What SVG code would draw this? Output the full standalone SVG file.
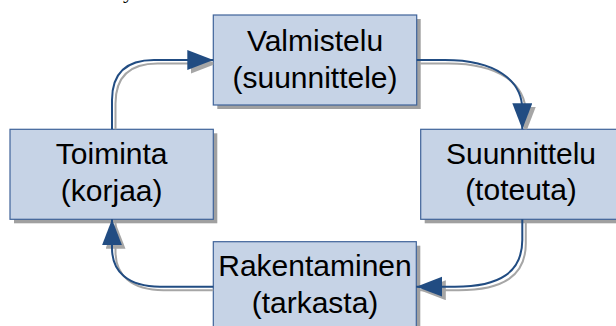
<svg xmlns="http://www.w3.org/2000/svg" width="616" height="326" viewBox="0 0 616 326">
  <style>
    .shadow { fill: #A0A0A0; }
    .box { fill: #C6D3E6; stroke: #3F6399; stroke-width: 1.2; }
    .label { font-family: "Liberation Sans", Arial, sans-serif; font-size: 30px; fill: #000; text-anchor: middle; }
    .wire { fill: none; stroke: #214C82; stroke-width: 2; }
    .wire-shadow { fill: none; stroke: #A6A6A6; stroke-width: 2; }
  </style>
  <defs>
    <marker id="head" markerUnits="userSpaceOnUse" markerWidth="28" markerHeight="21" refX="26" refY="10" orient="auto">
      <path d="M0,0 L26,10 L0,20 Z" fill="#214C82"/>
    </marker>
    <marker id="head-shadow" markerUnits="userSpaceOnUse" markerWidth="28" markerHeight="21" refX="26" refY="10" orient="auto">
      <path d="M0,0 L26,10 L0,20 Z" fill="#A6A6A6"/>
    </marker>
    <!-- keeps connector shadows from spilling over the boxes -->
    <mask id="outside-boxes">
      <rect x="0" y="0" width="616" height="326" fill="#fff"/>
      <rect x="213.3" y="15" width="203.4" height="90" fill="#000"/>
      <rect x="10" y="129.3" width="203.3" height="90" fill="#000"/>
      <rect x="420.7" y="129.3" width="203.3" height="90" fill="#000"/>
      <rect x="213.3" y="241.7" width="203" height="90" fill="#000"/>
    </mask>
    <path id="c1" d="M112,129.3 L112,100 C112,74 126,60 154,60 L213.3,60"/>
    <path id="c2" d="M416.7,60 L445,60 C495,60 522.3,80 522.3,110 L522.3,129.3"/>
    <path id="c3" d="M522.3,219.3 L522.3,240 C522.3,272 500,286.7 455,286.7 L416.3,286.7"/>
    <path id="c4" d="M213.3,286.7 L160,286.7 C128,286.7 112,272 112,248 L112,219.3"/>
  </defs>

  <!-- descender of a line of text above the frame -->
  <text x="123" y="-2" font-family="Liberation Serif, serif" font-size="22" fill="#000">y</text>

  <g id="node-valmistelu">
    <rect class="shadow" x="217.3" y="19" width="203.4" height="90"/>
    <rect class="box" x="213.3" y="15" width="203.4" height="90"/>
    <text class="label" x="315" y="51">Valmistelu</text>
    <text class="label" x="315" y="87.5">(suunnittele)</text>
  </g>

  <g id="node-toiminta">
    <rect class="shadow" x="14" y="133.3" width="203.3" height="90"/>
    <rect class="box" x="10" y="129.3" width="203.3" height="90"/>
    <text class="label" x="111.7" y="164">Toiminta</text>
    <text class="label" x="111.7" y="200.5">(korjaa)</text>
  </g>

  <g id="node-suunnittelu">
    <rect class="shadow" x="424.7" y="133.3" width="203.3" height="90"/>
    <rect class="box" x="420.7" y="129.3" width="203.3" height="90"/>
    <text class="label" x="521" y="163.5">Suunnittelu</text>
    <text class="label" x="521" y="200">(toteuta)</text>
  </g>

  <g id="node-rakentaminen">
    <rect class="shadow" x="217.3" y="245.7" width="203" height="90"/>
    <rect class="box" x="213.3" y="241.7" width="203" height="90"/>
    <text class="label" x="315" y="275.5">Rakentaminen</text>
    <text class="label" x="315" y="313">(tarkasta)</text>
  </g>

  <g id="connectors">
    <!-- drop shadows, offset down-right -->
    <g mask="url(#outside-boxes)">
      <g transform="translate(3.5,3.5)">
        <use href="#c1" class="wire-shadow" marker-end="url(#head-shadow)"/>
        <use href="#c2" class="wire-shadow" marker-end="url(#head-shadow)"/>
        <use href="#c3" class="wire-shadow" marker-end="url(#head-shadow)"/>
        <use href="#c4" class="wire-shadow" marker-end="url(#head-shadow)"/>
      </g>
    </g>
    <path class="wire" marker-end="url(#head)" d="M112,129.3 L112,100 C112,74 126,60 154,60 L213.3,60"/>
    <path class="wire" marker-end="url(#head)" d="M416.7,60 L445,60 C495,60 522.3,80 522.3,110 L522.3,129.3"/>
    <path class="wire" marker-end="url(#head)" d="M522.3,219.3 L522.3,240 C522.3,272 500,286.7 455,286.7 L416.3,286.7"/>
    <path class="wire" marker-end="url(#head)" d="M213.3,286.7 L160,286.7 C128,286.7 112,272 112,248 L112,219.3"/>
  </g>
</svg>
